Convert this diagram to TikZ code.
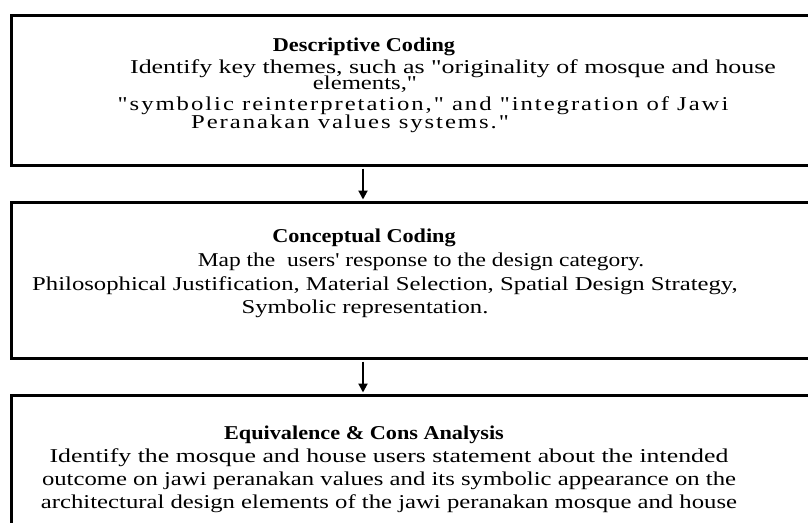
\documentclass[tikz,border=0pt]{standalone}
\usepackage{fontspec}
\setmainfont{Liberation Serif}[FakeStretch=1.26, Ligatures=TeXOff]
\usetikzlibrary{arrows.meta}
\newcommand{\sx}[2]{\scalebox{#1}[1]{#2}}
\begin{document}
\begin{tikzpicture}[x=1pt,y=-1pt,
  box/.style={draw, line width=3pt, rectangle, inner sep=0pt, anchor=north west, minimum width=830pt},
  ttl/.style={font=\fontsize{19.6}{24}\selectfont\bfseries, anchor=base, inner sep=0pt},
  txt/.style={font=\fontsize{19.6}{24}\selectfont, anchor=base, inner sep=0pt},
  spc/.style={font=\fontsize{19.6}{24}\selectfont\addfontfeatures{LetterSpace=10}, anchor=base, inner sep=0pt},
  arr/.style={line width=2pt, -{Triangle[length=9pt,width=9pt]}}]
\useasboundingbox (0,0) rectangle (808,522);
\clip (0,0) rectangle (808,522);
\node[box, minimum height=150pt] (b1) at (10,14) {};
\node[box, minimum height=156pt] (b2) at (10,201) {};
\node[box, minimum height=160pt] (b3) at (10,394) {};
\coordinate (ax) at (363,0);
\draw[arr] ([yshift=-1.5pt]b1.south -| ax) -- ([yshift=1.5pt]b2.north -| ax);
\draw[arr] ([yshift=-1.5pt]b2.south -| ax) -- ([yshift=1.5pt]b3.north -| ax);
% box 1
\node[ttl] (t1) at (364,51) {\sx{0.9}{Descriptive Coding}};
\node[txt] (l11) at (453,73) {\sx{1.05}{Identify key themes, such as "originality of mosque and house}};
\node[txt] (l12) at (365,89) {elements,"};
\node[spc] (l13) at (423,110) {"symbolic reinterpretation," and "integration of Jawi};
\node[spc] (l14) at (350,128) {Peranakan values systems."};
% box 2
\node[ttl] (t2) at (364,242) {\sx{0.9}{Conceptual Coding}};
\node[txt] (l21) at (421,266) {\sx{0.95}{Map the\ \ users' response to the design category.}};
\node[txt] (l22) at (385,290) {Philosophical Justification, Material Selection, Spatial Design Strategy,};
\node[txt] (l23) at (365,313) {Symbolic representation.};
% box 3
\node[ttl] (t3) at (364,439) {\sx{0.9}{Equivalence \& Cons Analysis}};
\node[txt] (l31) at (389,462) {\sx{1.045}{Identify the mosque and house users statement about the intended}};
\node[txt] (l32) at (389,485) {outcome on jawi peranakan values and its symbolic appearance on the};
\node[txt] (l33) at (389,508) {architectural design elements of the jawi peranakan mosque and house};
\end{tikzpicture}
\end{document}
